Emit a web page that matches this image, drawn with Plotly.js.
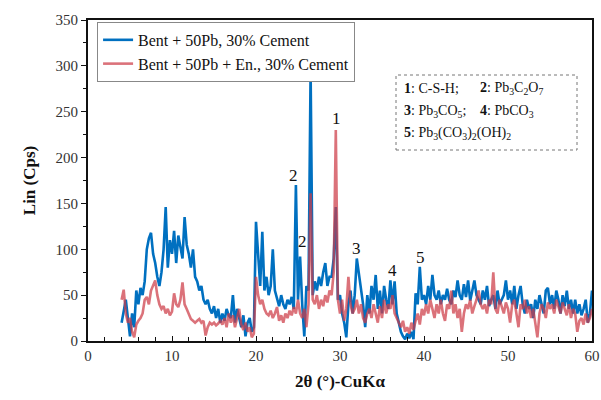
<!DOCTYPE html>
<html>
<head>
<meta charset="utf-8">
<script src="https://cdn.plot.ly/plotly-3.0.1.min.js"></script>
<style>html,body{margin:0;padding:0;background:#fff;}#chart{width:601px;height:400px;}</style>
</head>
<body>
<div id="chart"></div>
<script>
// 2θ grid: 4.00 to 60.00 in steps of 0.25°
const thetaStart = 4.0;
const thetaStep = 0.25;

// Bent + 50Pb, 30% Cement (Lin, Cps)
const bentPb = [
  20, 35, 45, 25,   5, 30, 15, 55,   40, 58, 50, 65,   100, 112, 118, 95,
  85, 70, 60, 75,   100, 146, 80, 110,   95, 120, 85, 115,   100, 90, 135, 105,
  95, 80, 100, 70,   65, 55, 60, 45,   40, 45, 35, 30,   38, 25, 35, 20,
  30, 22, 35, 28,   25, 50, 20, 35,   25, 15, 28, 5,   20, 25, 10, 15,
  130, 100, 60, 119,   55, 70, 50, 60,   100, 55, 45, 38,   50, 40, 35, 45,
  40, 48, 35, 170,   45, 92, 40, 5,   60, 55, 295, 50,   65, 55, 70, 60,
  75, 85, 60, 70,   70, 90, 146, 45,   50, 30, 20, 4,   40, 55, 30, 50,
  90, 75, 60, 40,   15, 50, 30, 60,   45, 72, 35, 55,   30, 60, 45, 35,
  66, 40, 65, 30,   20, 10, 5, 2,   8, 3, 10, 2,   52, 40, 81, 45,
  50, 40, 60, 45,   72, 50, 45, 55,   40, 50, 45, 57,   45, 40, 55, 48,
  66, 50, 45, 62,   48, 66, 44, 55,   66, 50, 45, 40,   55, 45, 60, 38,
  45, 50, 35, 55,   40, 45, 50, 66,   45, 55, 40, 60,   35, 50, 60, 40,
  30, 45, 35, 40,   25, 45, 35, 50,   40, 30, 55, 58,   40, 50, 35, 55,
  45, 30, 50, 38,   55, 35, 45, 30,   45, 30, 40, 28,   35, 45, 20, 30,
  55
];

// Bent + 50Pb + En., 30% Cement (Lin, Cps)
const bentPbEn = [
  45, 56, 30, 20,   25, 10, 4, 18,   22, 25, 30, 45,   48, 40, 55, 60,
  66, 50, 40, 35,   38, 30, 35, 28,   32, 52, 40, 37,   45, 64, 40, 35,
  30, 24, 22, 20,   22, 24, 20, 22,   6, 15, 20, 18,   20, 17, 19, 22,
  18, 25, 15, 30,   20, 28, 15, 25,   35, 18, 12, 20,   10, 15, 4, 8,
  70, 50, 40, 45,   35, 30, 28, 33,   25, 30, 37, 22,   28, 20, 30, 25,
  33, 28, 37, 30,   45, 30, 25, 35,   15, 40, 161, 45,   40, 50, 35, 45,
  38, 50, 42, 55,   50, 75, 230, 45,   30, 45, 22, 35,   70, 40, 30, 35,
  45, 30, 40, 25,   20, 30, 35, 25,   40, 30, 20, 38,   25, 45, 30, 40,
  35, 50, 30, 25,   20, 15, 22, 10,   15, 8, 20, 12,   22, 30, 18, 35,
  28, 40, 30, 45,   35, 25, 40, 30,   45, 30, 22, 40,   35, 55, 30, 40,
  25, 35, 10, 30,   40, 35, 45, 30,   38, 45, 55, 40,   35, 40, 30, 45,
  40, 75, 35, 30,   45, 38, 30, 42,   35, 20, 40, 45,   30, 15, 40, 35,
  45, 30, 38, 25,   35, 20, 4, 30,   40, 35, 25, 42,   35, 40, 30, 45,
  38, 30, 42, 35,   28, 40, 25, 35,   30, 10, 22, 25,   18, 30, 20, 25,
  35
];

const seriesNames = ["Bent + 50Pb, 30% Cement", "Bent + 50Pb + En., 30% Cement"];

// peak labels
const peakLabels = ["1", "2", "2", "3", "4", "5"];
const peakTheta = [29.6, 24.5, 25.5, 32.0, 36.2, 39.6];
const peakLabelY = [243, 181, 108, 101, 77, 91];

// phase key
const phaseKeyLines = [
  "<b>1</b>: C-S-H;",
  "<b>2</b>: Pb<sub>3</sub>C<sub>2</sub>O<sub>7</sub>",
  "<b>3</b>: Pb<sub>3</sub>CO<sub>5</sub>;",
  "<b>4</b>: PbCO<sub>3</sub>",
  "<b>5</b>: Pb<sub>3</sub>(CO<sub>3</sub>)<sub>2</sub>(OH)<sub>2</sub>"
];

const xGrid = bentPb.map((_, i) => thetaStart + i * thetaStep);

const serif = "Liberation Serif, Times New Roman, serif";

const traces = [
  {x: xGrid, y: bentPb, type: "scatter", mode: "lines", name: seriesNames[0],
   line: {color: "rgb(0,112,192)", width: 2.6}},
  {x: xGrid, y: bentPbEn, type: "scatter", mode: "lines", name: seriesNames[1],
   line: {color: "rgba(205,60,70,0.72)", width: 2.6}}
];

const annotations = peakLabels.map((t, i) => ({
  x: peakTheta[i], y: peakLabelY[i], xref: "x", yref: "y", text: t,
  showarrow: false, font: {family: serif, size: 17, color: "#111"}
}));

// phase key text positions in paper coordinates
const keyX1 = (402 - 88) / 504, keyX2 = (478 - 88) / 504;
const keyY = [(341 - 88) / 321, (341 - 111) / 321, (341 - 133) / 321];
const keyPos = [[keyX1, keyY[0]], [keyX2, keyY[0]], [keyX1, keyY[1]], [keyX2, keyY[1]], [keyX1, keyY[2]]];
phaseKeyLines.forEach((t, i) => {
  annotations.push({x: keyPos[i][0], y: keyPos[i][1], xref: "paper", yref: "paper",
    xanchor: "left", yanchor: "middle", text: t, showarrow: false,
    font: {family: serif, size: 14, color: "#111"}});
});

const layout = {
  width: 601, height: 400,
  margin: {l: 88, r: 9, t: 20, b: 59},
  paper_bgcolor: "#fff", plot_bgcolor: "#fff",
  showlegend: true,
  legend: {x: 0.018, y: 0.994, xanchor: "left", yanchor: "top",
    bgcolor: "#fff", bordercolor: "#888", borderwidth: 1,
    font: {family: serif, size: 16, color: "#111"}, tracegroupgap: 0},
  xaxis: {range: [0, 60], dtick: 10, tick0: 0, showgrid: false, zeroline: false,
    showline: true, mirror: true, linecolor: "#111", linewidth: 2,
    ticks: "inside", ticklen: 5, tickcolor: "#111",
    minor: {dtick: 2, ticks: "inside", ticklen: 4, tickcolor: "#111"},
    tickfont: {family: serif, size: 15, color: "#333"},
    title: {text: "<b>2θ (°)-CuKα</b>", font: {family: serif, size: 17, color: "#111"}, standoff: 12}},
  yaxis: {range: [0, 350], dtick: 50, tick0: 0, showgrid: false, zeroline: false,
    showline: true, mirror: true, linecolor: "#111", linewidth: 2,
    ticks: "outside", ticklen: 5, tickcolor: "#111",
    minor: {dtick: 25, ticks: "outside", ticklen: 3, tickcolor: "#111"},
    tickfont: {family: serif, size: 15, color: "#333"},
    title: {text: "<b>Lin (Cps)</b>", font: {family: serif, size: 17, color: "#111"}, standoff: 16}},
  shapes: [{type: "rect", xref: "paper", yref: "paper",
    x0: (396 - 88) / 504, x1: (577 - 88) / 504, y0: (341 - 150) / 321, y1: (341 - 75) / 321,
    line: {color: "#777", width: 1, dash: "dot"}, fillcolor: "rgba(0,0,0,0)"}],
  annotations: annotations
};

Plotly.newPlot("chart", traces, layout, {displayModeBar: false, staticPlot: true});
</script>
</body>
</html>
